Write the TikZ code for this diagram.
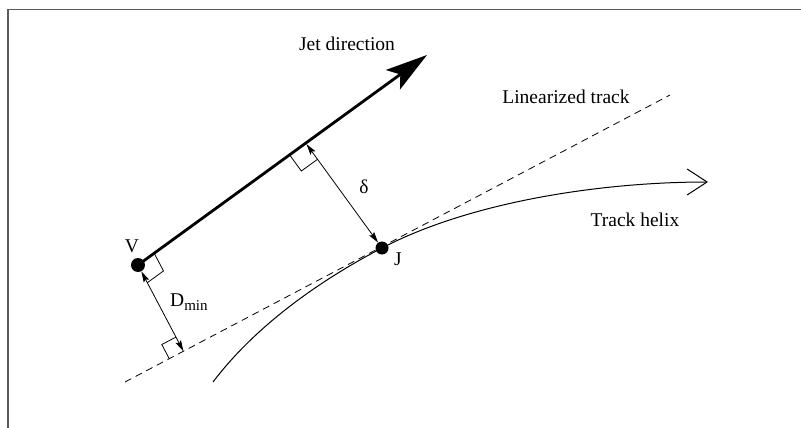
\documentclass[tikz,border=0pt]{standalone}
\usepackage{fontspec}
\setmainfont{Liberation Serif}
\usetikzlibrary{arrows.meta,calc}
\begin{document}
\begin{tikzpicture}[x=1pt,y=-1pt,
  dot/.style={circle,fill=black,inner sep=0pt,minimum size=14pt},
  lbl/.style={inner sep=0pt,anchor=base,font=\fontsize{19.5}{23}\selectfont},
  jet/.style={line width=2.8pt,-{Stealth[length=42pt,width=24pt,inset=9pt]}},
  dimarrow/.style={line width=0.8pt,{Stealth[length=11pt,width=6pt,inset=2pt]}-{Stealth[length=11pt,width=6pt,inset=2pt]}},
  rightmark/.style={line width=0.8pt},
  track/.style={line width=1pt},
  lin/.style={line width=0.8pt,dash pattern=on 7pt off 5pt},
  frame/.style={line width=1.5pt,black!65}]
\useasboundingbox (0,0) rectangle (801,428);
\draw[frame] (8,428) -- (8,9.5) -- (801,9.5);
\node[dot] (V) at (138,265) {};
\node[dot,minimum size=13pt] (J) at (382,248) {};
\coordinate (tip) at (427,55);
\coordinate (L1) at (125,382);
\coordinate (L2) at (670,95);
\coordinate (H0) at (213,382);
\coordinate (H1) at (708,182);
\draw[lin] (L1) -- (L2);
\draw[track,-{Straight Barb[length=20pt,width=26pt]}] (H0) .. controls (260,320) and (330,275) .. (J.center) .. controls (470,202) and (600,182) .. (H1);
\draw[jet] (V.center) -- (tip);
\coordinate (F) at ($(V)!(J)!(tip)$);
\coordinate (F2) at ($(L1)!(V)!(L2)$);
\draw[dimarrow,shorten <=1.2pt] (F) -- (J);
\draw[dimarrow] (V) -- (F2);
% right-angle marks
\coordinate (A) at ($(F)!20pt!(V)$);
\coordinate (C) at ($(F)!20pt!(J)$);
\draw[rightmark] (A) -- ($(A)+(C)-(F)$) -- (C);
\coordinate (A2) at ($(F2)!16pt!(L1)$);
\coordinate (C2) at ($(F2)!16pt!(V)$);
\draw[rightmark] (A2) -- ($(A2)+(C2)-(F2)$) -- (C2);
\coordinate (A3) at ($(V)!20pt!(tip)$);
\coordinate (C3) at ($(V)!20pt!(F2)$);
\draw[rightmark] (A3) -- ($(A3)+(C3)-(V)$) -- (C3);
% labels
\node[lbl] (tJet) at (347,51) {Jet direction};
\node[lbl] (tLin) at (566,103) {Linearized track};
\node[lbl] (tHel) at (635,226) {Track helix};
\node[lbl] (tdel) at (364,193) {δ};
\node[lbl] (tV) at (132,252) {V};
\node[lbl] (tJ) at (398,265) {J};
\node[lbl,anchor=base west] (tD) at (170,306) {D\raisebox{-4pt}{\fontsize{15}{18}\selectfont min}};
\end{tikzpicture}
\end{document}
